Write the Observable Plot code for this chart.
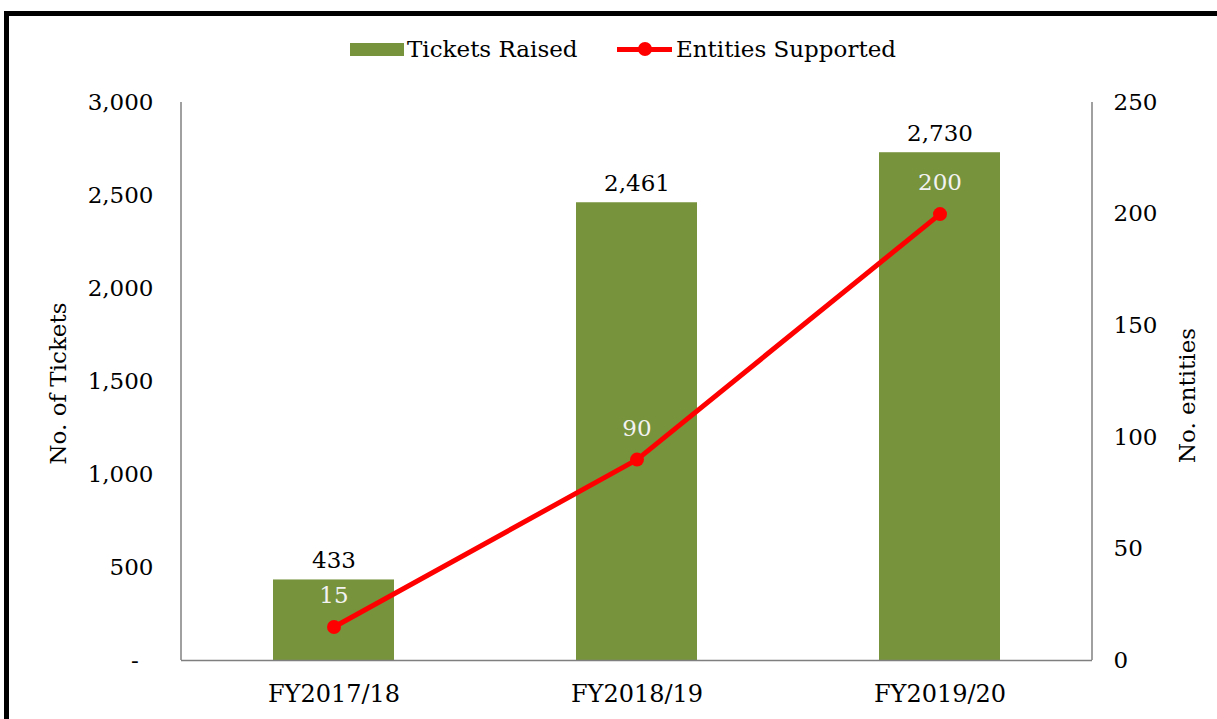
<!DOCTYPE html>
<html>
<head>
<meta charset="utf-8">
<script src="https://cdn.jsdelivr.net/npm/d3@7"></script>
<script src="https://cdn.jsdelivr.net/npm/@observablehq/plot@0.6"></script>
<style>
  html, body { margin: 0; padding: 0; background: #fff; overflow: hidden; width: 1217px; height: 719px; }
  body { font-family: "DejaVu Serif", serif; position: relative; }
  #frame { position: absolute; left: 4px; top: 11px; width: 1400px; height: 900px;
           border-left: 5px solid #000; border-top: 5px solid #000; box-sizing: border-box; }
  #legend { position: absolute; left: 0; top: 0; width: 1217px; height: 80px; font-size: 23px; color: #000; }
  .item { position: absolute; top: 49px; transform: translateY(-50%); white-space: nowrap; line-height: 1; }
  .swbar { position: absolute; top: 43px; width: 54px; height: 13px; background: #77933C; }
  .swline { position: absolute; top: 47px; width: 55px; height: 5px; background: #FF0000; }
  .swdot { position: absolute; top: 42px; width: 14px; height: 14px; border-radius: 50%; background: #FF0000; }
  #chart { position: absolute; left: 0; top: 80px; }
</style>
</head>
<body>
<div id="frame"></div>
<div id="legend"></div>
<div id="chart"></div>
<script>
// ---- data ----
const categories = ["FY2017/18", "FY2018/19", "FY2019/20"];
const ticketsRaised = [433, 2461, 2730];
const entitiesSupported = [15, 90, 200];
const ticketTicks = [0, 500, 1000, 1500, 2000, 2500, 3000];
const entityTicks = [0, 50, 100, 150, 200, 250];
const seriesNames = ["Tickets Raised", "Entities Supported"];
const axisTitles = ["No. of Tickets", "No. entities"];

// secondary axis maps 0..250 onto primary 0..3000
const ratio = ticketTicks[ticketTicks.length - 1] / entityTicks[entityTicks.length - 1];
const data = categories.map((c, i) => ({category: c, tickets: ticketsRaised[i], entities: entitiesSupported[i]}));

// ---- legend ----
const legend = document.getElementById("legend");
legend.innerHTML = `
  <div class="swbar" style="left:350px"></div>
  <div class="item" style="left:407px">${seriesNames[0]}</div>
  <div class="swline" style="left:617px"></div>
  <div class="swdot" style="left:638px"></div>
  <div class="item" style="left:676px">${seriesNames[1]}</div>`;

const fmt = d3.format(",");
const font = '"DejaVu Serif", serif';

const chart = Plot.plot({
  width: 1217,
  height: 639,
  marginTop: 22,
  marginBottom: 59,
  marginLeft: 181,
  marginRight: 125,
  style: {background: "transparent", fontFamily: font, fontSize: "23px", color: "#000", overflow: "visible"},
  x: {domain: categories, paddingInner: 0.6, paddingOuter: 0.3, axis: null},
  y: {domain: [0, 3000], axis: null},
  marks: [
    Plot.barY(data, {x: "category", y: "tickets", fill: "#77933C"}),
    Plot.axisX({tickSize: 0, tickPadding: 24, fontSize: 24, label: null}),
    Plot.axisY(ticketTicks, {anchor: "left", tickSize: 0, tickPadding: 28, fontSize: 23, label: null,
      tickFormat: d => d === 0 ? "-\u00a0\u00a0" : fmt(d)}),
    Plot.axisY(entityTicks.map(d => d * ratio), {anchor: "right", tickSize: 0, tickPadding: 21, fontSize: 23, label: null,
      tickFormat: d => String(Math.round(d / ratio))}),
    Plot.ruleY([0], {stroke: "#7f7f7f", strokeWidth: 1.5}),
    Plot.text(data, {x: "category", y: "tickets", text: d => fmt(d.tickets), dy: -19,
      fill: "#000", fontSize: 23, lineAnchor: "middle"}),
    Plot.line(data, {x: "category", y: d => d.entities * ratio, stroke: "#FF0000", strokeWidth: 5}),
    Plot.dot(data, {x: "category", y: d => d.entities * ratio, r: 7, fill: "#FF0000"}),
    Plot.text(data, {x: "category", y: d => d.entities * ratio, text: d => String(d.entities), dy: -31,
      fill: "#F2F2F2", fontSize: 23, lineAnchor: "middle"}),
    Plot.text([axisTitles[0]], {frameAnchor: "left", text: d => d, rotate: -90, dx: -123, dy: 2,
      fill: "#000", fontSize: 23, lineAnchor: "middle", textAnchor: "middle"}),
    Plot.text([axisTitles[1]], {frameAnchor: "right", text: d => d, rotate: -90, dx: 95, dy: 14,
      fill: "#000", fontSize: 23, lineAnchor: "middle", textAnchor: "middle"})
  ]
});

document.getElementById("chart").appendChild(chart);

// vertical axis lines at the frame edges, positioned from the library's scales
const xr = chart.scale("x").range;
const ys = chart.scale("y");
const y0 = ys.apply(0), y1 = ys.apply(3000);
const svgNode = chart.tagName.toLowerCase() === "svg" ? chart : chart.querySelector("svg");
const svg = d3.select(svgNode);
for (const x of xr) {
  svg.append("line")
    .attr("x1", x).attr("x2", x).attr("y1", y0).attr("y2", y1)
    .attr("stroke", "#808080").attr("stroke-width", 1.5);
}
</script>
</body>
</html>
